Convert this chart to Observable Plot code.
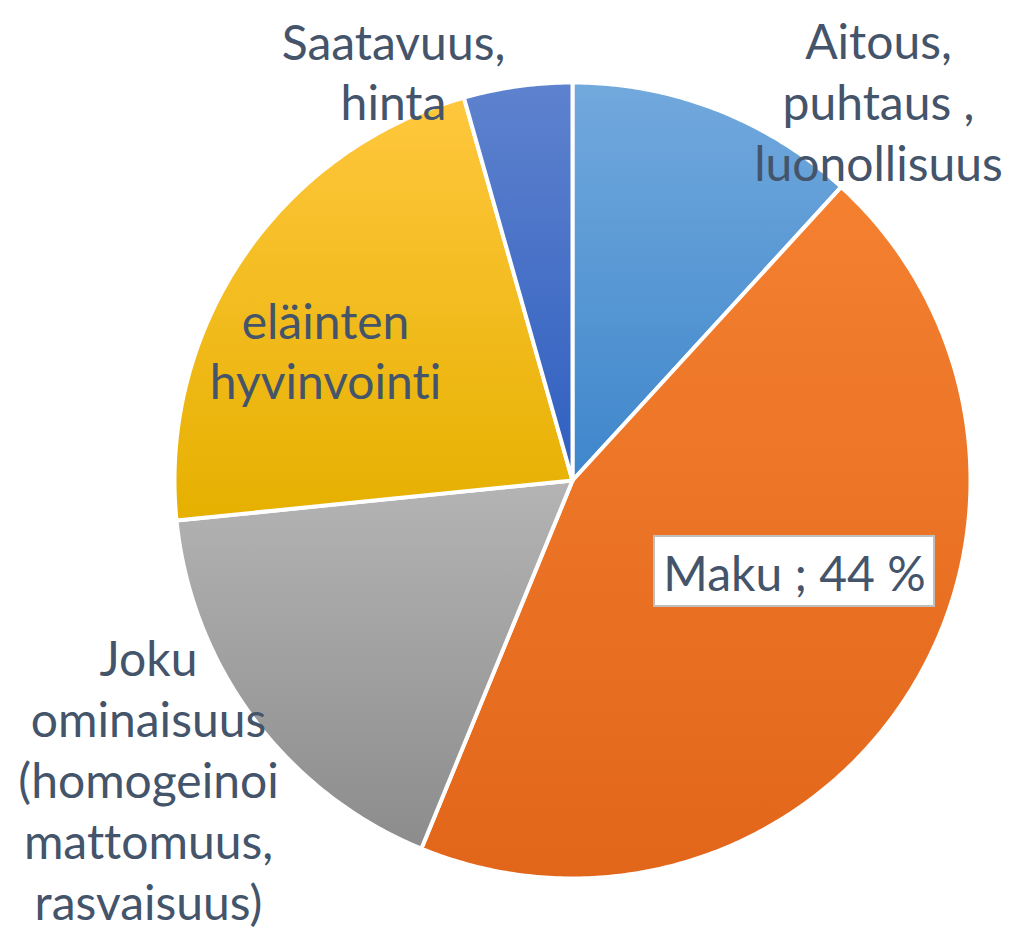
<!DOCTYPE html>
<html>
<head>
<meta charset="utf-8">
<script src="https://cdn.jsdelivr.net/npm/d3@7"></script>
<script src="https://cdn.jsdelivr.net/npm/@observablehq/plot@0.6"></script>
<style>
  html, body { margin: 0; padding: 0; background: #fff; }
  svg text { font-variant-ligatures: none; font-feature-settings: "liga" 0; }
</style>
</head>
<body>
<div id="chart"></div>
<script>
// Data
const categories = ["Aitous, puhtaus , luonollisuus", "Maku", "Joku ominaisuus (homogeinoimattomuus, rasvaisuus)", "eläinten hyvinvointi", "Saatavuus, hinta"];
const values = [11.8, 44.4, 17.2, 22.2, 4.4];
const labelTexts = [
  "Aitous,\npuhtaus ,\nluonollisuus",
  "Maku ; 44 %",
  "Joku\nominaisuus\n(homogeinoi\nmattomuus,\nrasvaisuus)",
  "eläinten\nhyvinvointi",
  "Saatavuus,\nhinta"
];

// Styles / layout
const gradients = [
  ["#72A9DD", "#3E86CB"],
  ["#F48030", "#E2661A"],
  ["#B4B4B4", "#8C8C8C"],
  ["#FFC73D", "#E6B000"],
  ["#5E82CE", "#2F5FC0"]
];
const W = 1013, H = 931, CX = 572, CY = 480, R = 398;
// label anchor positions in pie-radius units (relative to pie center)
const labelPos = [
  [(878 - CX) / R, (CY - 100) / R],
  [(794 - CX) / R, (CY - 571) / R],
  [(148 - CX) / R, (CY - 778) / R],
  [(325 - CX) / R, (CY - 349) / R],
  [(393 - CX) / R, (CY - 70) / R]
];

const total = d3.sum(values);
let cum = 0;
const slices = values.map((v, i) => {
  const a0 = cum / total * 2 * Math.PI;
  cum += v;
  const a1 = cum / total * 2 * Math.PI;
  const pts = [{x: 0, y: 0}];
  const n = Math.max(2, Math.ceil((a1 - a0) / 0.01));
  for (let k = 0; k <= n; k++) {
    const a = a0 + (a1 - a0) * k / n;
    pts.push({x: Math.sin(a), y: Math.cos(a)});
  }
  return {i, name: categories[i], pts};
});

const defs = () => {
  const d = d3.create("svg:defs");
  gradients.forEach((g, i) => {
    const lg = d.append("linearGradient").attr("id", "pg" + i)
      .attr("x1", 0).attr("y1", 0).attr("x2", 0).attr("y2", 1);
    lg.append("stop").attr("offset", "0%").attr("stop-color", g[0]);
    lg.append("stop").attr("offset", "100%").attr("stop-color", g[1]);
  });
  return d.node();
};

const labels = labelTexts.map((t, i) => ({text: t, x: labelPos[i][0], y: labelPos[i][1], i}));
const makuLabel = labels.filter(d => d.i === 1);

const plot = Plot.plot({
  width: W,
  height: H,
  margin: 0,
  x: {domain: [-CX / R, (W - CX) / R], range: [0, W], axis: null},
  y: {domain: [(CY - H) / R, CY / R], range: [H, 0], axis: null},
  style: {background: "#fff"},
  marks: [
    defs,
    ...slices.map(s => Plot.line(s.pts, {
      x: "x", y: "y", curve: "linear-closed",
      fill: `url(#pg${s.i})`, stroke: "#fff", strokeWidth: 4, strokeLinejoin: "round"
    })),
    Plot.rect(makuLabel, {
      x1: d => d.x - 140 / R, x2: d => d.x + 140 / R,
      y1: d => d.y - 35 / R, y2: d => d.y + 35 / R,
      fill: "#fff", stroke: "#BFBFBF", strokeWidth: 2
    }),
    Plot.text(labels, {
      x: "x", y: "y", text: "text",
      fill: "#44546A", fontSize: 48, lineHeight: 1.27,
      fontFamily: "Lato", textAnchor: "middle", lineAnchor: "middle"
    })
  ]
});
document.getElementById("chart").appendChild(plot);
</script>
</body>
</html>
